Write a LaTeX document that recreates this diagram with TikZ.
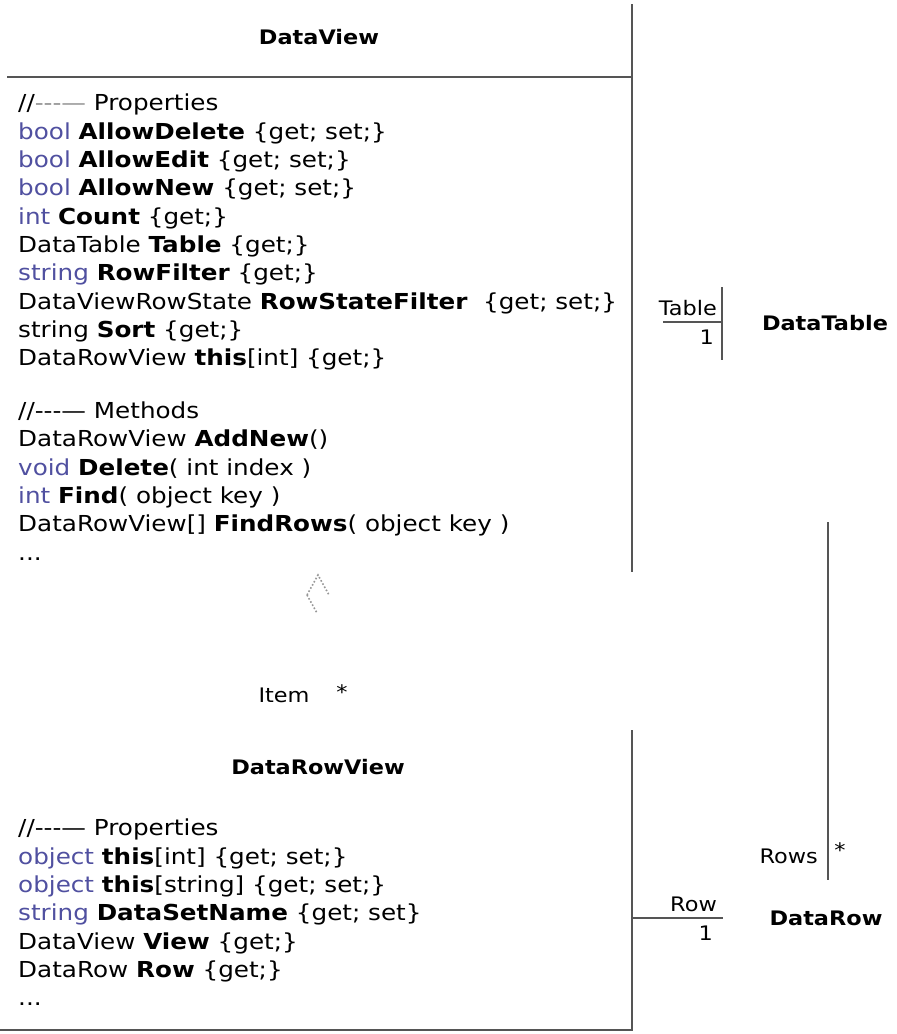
\documentclass[tikz,border=0pt]{standalone}
\usepackage{fontspec}
\setmainfont{DejaVu Sans}[FakeStretch=1.12]
\usetikzlibrary{arrows.meta}
\definecolor{kwc}{RGB}{80,80,160}
\definecolor{lnc}{RGB}{85,85,85}
\definecolor{dsh}{RGB}{150,150,150}
\newcommand{\kw}[1]{\textcolor{kwc}{#1}}
\newcommand{\cmtdash}{-{}-{}-{}\textemdash}
\tikzset{
  edge/.style={draw=lnc, line width=1.8pt},
  thin edge/.style={draw=lnc, line width=1.4pt},
  body/.style={anchor=north west, align=left, inner sep=0pt, font=\fontsize{22}{28.3}\selectfont},
  title/.style={inner sep=0pt, font=\fontsize{20}{22}\selectfont\bfseries},
  lbl/.style={inner sep=0pt, font=\fontsize{20}{22}\selectfont},
}
\begin{document}
\begin{tikzpicture}[x=1pt,y=-1pt]
\useasboundingbox (0,0) rectangle (897,1034);
% DataView box (visible parts)
\coordinate (dvTop) at (632,4);
\coordinate (dvBot) at (632,572);
\coordinate (dvSepL) at (7,77);
\coordinate (dvSepR) at (632,77);
\draw[edge] (dvTop) -- (dvBot);
\draw[edge] (dvSepL) -- (dvSepR);
\node[title] (dvTitle) at (319,37) {DataView};
\node[body] (dvBody) at (18,94) {%
//\textcolor{dsh}{\cmtdash} Properties\\
\kw{bool} \textbf{AllowDelete} \{get; set;\}\\
\kw{bool} \textbf{AllowEdit} \{get; set;\}\\
\kw{bool} \textbf{AllowNew} \{get; set;\}\\
\kw{int} \textbf{Count} \{get;\}\\
DataTable \textbf{Table} \{get;\}\\
\kw{string} \textbf{RowFilter} \{get;\}\\
DataViewRowState \textbf{RowStateFilter}\ \ \{get; set;\}\\
string \textbf{Sort} \{get;\}\\
DataRowView \textbf{this}[int] \{get;\}\\[24.7pt]
//\cmtdash{} Methods\\
DataRowView \textbf{AddNew}()\\
\kw{void} \textbf{Delete}( int index )\\
\kw{int} \textbf{Find}( object key )\\
DataRowView[] \textbf{FindRows}( object key )\\
...};
% DataTable
\coordinate (dtTop) at (722,287);
\coordinate (dtBot) at (722,360);
\draw[thin edge] (dtTop) -- (dtBot);
\node[title] (dtTitle) at (825,323) {DataTable};
\coordinate (tabL) at (663,322);
\coordinate (tabR) at (721,322);
\draw[thin edge] (tabL) -- (tabR);
\node[lbl, anchor=south east] (tabLbl) at (717,316) {Table};
\node[lbl, anchor=north east] (tabMul) at (714,330) {1};
% Rows connector
\coordinate (rowsTop) at (828,522);
\coordinate (rowsBot) at (828,880);
\draw[thin edge] (rowsTop) -- (rowsBot);
\node[lbl, anchor=east] (rowsLbl) at (818,856) {Rows};
\node[lbl] (rowsMul) at (840,850) {*};
% DataRow
\node[title] (drTitle) at (826,918) {DataRow};
\coordinate (rowL) at (632,918);
\coordinate (rowR) at (723,918);
\draw[thin edge] (rowL) -- (rowR);
\node[lbl, anchor=south east] (rowLbl) at (717,912) {Row};
\node[lbl, anchor=north east] (rowMul) at (713,926) {1};
% dotted navigation arrow and Item label
\coordinate (arrTip) at (318,575);
\coordinate (arrL) at (307,595);
\coordinate (arrR) at (329,595);
\coordinate (arrTail) at (317,613);
\draw[dsh, line width=1.6pt, dotted] (arrL) -- (arrTip) -- (arrR);
\draw[dsh, line width=1.6pt, dotted] (arrL) -- (arrTail);
\node[lbl] (itemLbl) at (284,695) {Item};
\node[lbl] (itemMul) at (342,692) {*};
% DataRowView box (visible parts)
\coordinate (drvTop) at (632,730);
\coordinate (drvBR) at (632,1030);
\coordinate (drvBL) at (0,1030);
\draw[edge] (drvTop) -- (drvBR) -- (drvBL);
\node[title] (drvTitle) at (318,767) {DataRowView};
\node[body] (drvBody) at (18,819) {%
//\cmtdash{} Properties\\
\kw{object} \textbf{this}[int] \{get; set;\}\\
\kw{object} \textbf{this}[string] \{get; set;\}\\
\kw{string} \textbf{DataSetName} \{get; set\}\\
DataView \textbf{View} \{get;\}\\
DataRow \textbf{Row} \{get;\}\\
...};
\end{tikzpicture}
\end{document}
